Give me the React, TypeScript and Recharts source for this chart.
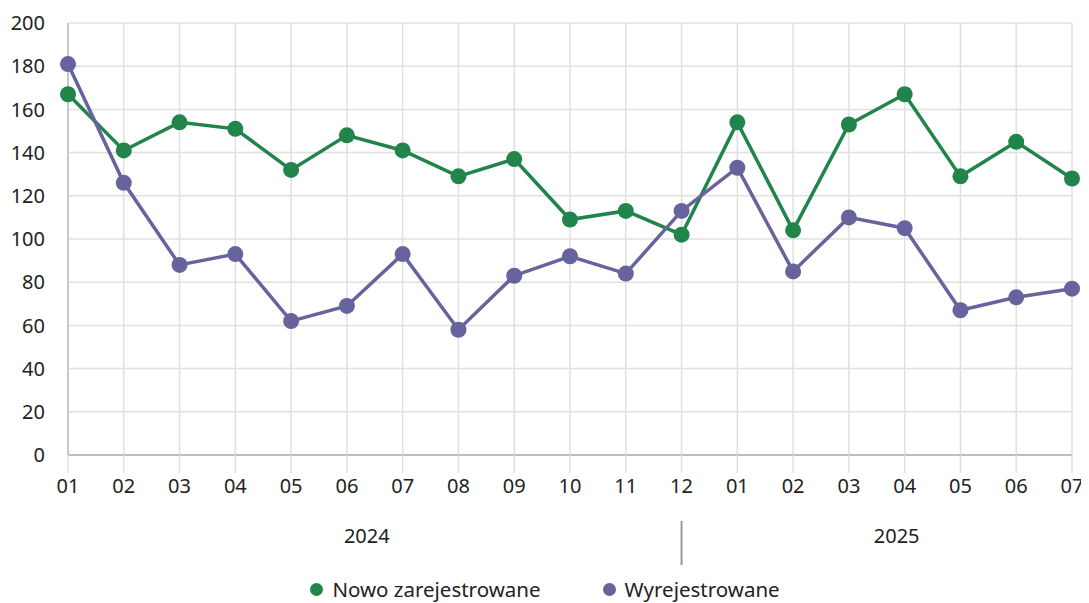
import React from 'react';
import { LineChart, Line, XAxis, YAxis, CartesianGrid, Legend } from 'recharts';

const months = ['01','02','03','04','05','06','07','08','09','10','11','12','01','02','03','04','05','06','07'];
const years = ['2024', '2025'];
const yearStart = [0, 12];
const yearEnd = [11, 18];
const newlyRegistered = [167,141,154,151,132,148,141,129,137,109,113,102,154,104,153,167,129,145,128];
const deregistered = [181,126,88,93,62,69,93,58,83,92,84,113,133,85,110,105,67,73,77];
const yTicks = [0,20,40,60,80,100,120,140,160,180,200];

const GREEN = '#21844b';
const PURPLE = '#67639d';
const FONT = '"Noto Sans", sans-serif';

const data = months.map((m, i) => ({ idx: i, m, nowo: newlyRegistered[i], wyr: deregistered[i] }));
const monthTicks = months.map((_, i) => i);
const yearCenters = years.map((_, k) => (yearStart[k] + yearEnd[k]) / 2);
const separators = yearEnd.slice(0, -1);
const yearTicks = [...yearCenters, ...separators];

const YearTick = (props: any) => {
  const { x, y, payload } = props;
  const v = payload.value;
  const k = yearCenters.indexOf(v);
  if (k >= 0) {
    return (
      <text x={x - 8} y={y + 33} textAnchor="middle" dominantBaseline="central" fill="#222" fontSize={20} fontFamily={FONT}>
        {years[k]}
      </text>
    );
  }
  return <line x1={x} x2={x} y1={y + 19} y2={y + 63} stroke="#999" strokeWidth={2} />;
};

const series = [
  { key: 'nowo', name: 'Nowo zarejestrowane', color: GREEN },
  { key: 'wyr', name: 'Wyrejestrowane', color: PURPLE },
];

const LegendContent = () => (
  <div style={{ display: 'flex', justifyContent: 'center', alignItems: 'center', gap: 62, fontFamily: FONT, fontSize: 20.5, color: '#222', height: 28, paddingRight: 10 }}>
    {series.map((s) => (
      <div key={s.key} style={{ display: 'flex', alignItems: 'center' }}>
        <svg width={13} height={13} style={{ marginRight: 9 }}>
          <circle cx={6.5} cy={6.5} r={6.5} fill={s.color} />
        </svg>
        <span>{s.name}</span>
      </div>
    ))}
  </div>
);

export default function App() {
  return (
    <LineChart width={1081} height={595} data={data} margin={{ top: 15, right: 17, left: 20, bottom: 0 }}>
      <CartesianGrid stroke="#e0e0e0" strokeWidth={1.5} />
      <XAxis
        dataKey="idx"
        type="number"
        domain={[0, 18]}
        ticks={monthTicks}
        interval={0}
        tickFormatter={(i: number) => months[i]}
        tickSize={18}
        tickMargin={6}
        tickLine={{ stroke: '#e0e0e0', strokeWidth: 1.5 }}
        axisLine={{ stroke: '#bdbdbd', strokeWidth: 2 }}
        tick={{ fill: '#222', fontSize: 20, fontFamily: FONT }}
        height={45}
      />
      <XAxis
        xAxisId="year"
        dataKey="idx"
        type="number"
        domain={[0, 18]}
        ticks={yearTicks}
        interval={0}
        axisLine={false}
        tickLine={false}
        tickSize={0}
        tick={<YearTick />}
        height={75}
      />
      <YAxis
        domain={[0, 200]}
        ticks={yTicks}
        interval={0}
        width={40}
        tickLine={false}
        tickMargin={17}
        axisLine={{ stroke: '#c8c8c8', strokeWidth: 2 }}
        tick={{ fill: '#222', fontSize: 20, fontFamily: FONT }}
      />
      <Legend verticalAlign="bottom" content={<LegendContent />} />
      {series.map((s) => (
        <Line
          key={s.key}
          dataKey={s.key}
          name={s.name}
          stroke={s.color}
          strokeWidth={3.5}
          dot={{ r: 8, fill: s.color, stroke: 'none' }}
          activeDot={false}
          isAnimationActive={false}
        />
      ))}
    </LineChart>
  );
}
